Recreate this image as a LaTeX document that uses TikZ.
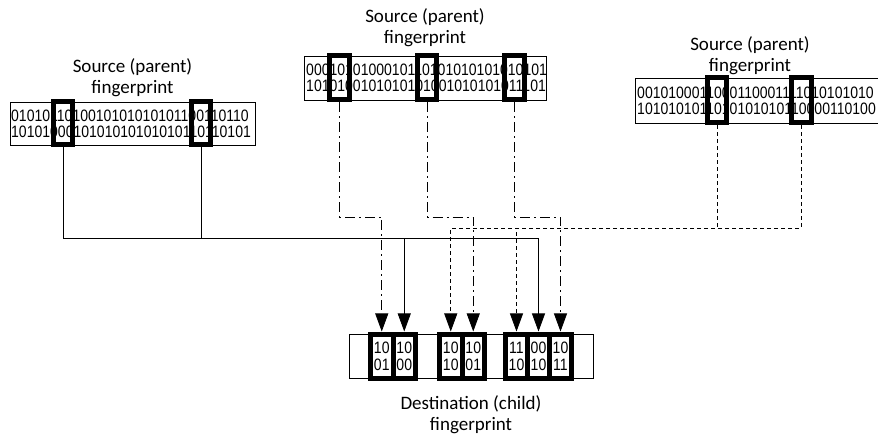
\documentclass[tikz,border=0pt]{standalone}
\usepackage{fontspec}
\setmainfont{Carlito}
\newfontfamily\digitfont[FakeStretch=0.85]{Liberation Sans}
\usetikzlibrary{arrows.meta}
\begin{document}
\begin{tikzpicture}[x=1pt,y=-1pt,
  lbl/.style={font=\fontsize{19}{21}\selectfont, align=center, inner sep=0pt},
  fpbox/.style={draw, line width=0.8pt, inner sep=0pt, minimum width=#1},
  hl/.style={draw, line width=5pt, inner sep=0pt, minimum width=19.5pt},
  bits/.style={font=\digitfont\fontsize{16.5}{16}\selectfont, inner sep=0pt, anchor=west},
  cbox/.style={draw, line width=5pt, inner sep=0pt, minimum width=22.5pt, minimum height=44pt,
               align=center, font=\digitfont\fontsize{16.5}{17}\selectfont},
  conn/.style={line width=0.8pt, -{Triangle[length=18pt,width=13pt]}},
  solidc/.style={conn},
  dashdotc/.style={conn, dash pattern=on 10pt off 4pt on 2pt off 4pt},
  dashc/.style={conn, dash pattern=on 4pt off 3pt},
]
\useasboundingbox (0,0) rectangle (878,438);
\clip (0,0) rectangle (878,438);

% labels
\node[lbl] (labL) at (132.5,77.5) {Source (parent)\\fingerprint};
\node[lbl] (labM) at (425,28) {Source (parent)\\fingerprint};
\node[lbl] (labR) at (750,55.5) {Source (parent)\\fingerprint};
\node[lbl] (labD) at (471,415) {Destination (child)\\fingerprint};

% source boxes
\node[fpbox=245pt, minimum height=43pt] (L) at (132.5,123.5) {};
\node[bits] (L1) at (11,115.5) {0101011010010101010101100110110};
\node[bits] (L2) at (11,131.5) {1010100010101010101010110110101};

\node[fpbox=242pt, minimum height=44pt] (M) at (425,78) {};
\node[bits] (M1) at (306,70) {0001010100010110101010101010101};
\node[bits] (M2) at (306,86) {1010100101010101001010101011101};

\node[fpbox=260pt, minimum height=45pt] (R) at (765,100.5) {};
\node[bits] (R1) at (637,92.5) {0010100011000110001111010101010};
\node[bits] (R2) at (637,108.5) {1010101011010101010110000110100};

% highlight boxes
\node[hl, minimum height=43pt] (hL1) at (63,123.5) {};
\node[hl, minimum height=43pt] (hL2) at (201,123.5) {};
\node[hl, minimum height=44pt] (hM1) at (339.5,78) {};
\node[hl, minimum height=44pt] (hM2) at (427,78) {};
\node[hl, minimum height=44pt] (hM3) at (514.5,78) {};
\node[hl, minimum height=45pt] (hR1) at (717,100.5) {};
\node[hl, minimum height=45pt] (hR2) at (801.5,100.5) {};

% destination
\node[fpbox=244pt, minimum height=44pt] (D) at (471,356) {};
\node[cbox] (d1) at (381.75,356) {10\\01};
\node[cbox] (d2) at (404.25,356) {10\\00};
\node[cbox] (d3) at (450.75,356) {10\\10};
\node[cbox] (d4) at (473.25,356) {10\\01};
\node[cbox] (d5) at (516.5,356) {11\\10};
\node[cbox] (d6) at (538.5,356) {00\\10};
\node[cbox] (d7) at (560.5,356) {10\\11};

% routing levels
\coordinate (ySolid) at (0,238);
\coordinate (yDD) at (0,217);
\coordinate (yDash) at (0,228);

% connectors
\draw[solidc] (hL1.south) -- (hL1.south |- ySolid) -| (d2.north);
\draw[solidc] (hL2.south) -- (hL2.south |- ySolid) -| (d6.north);
\draw[dashdotc] (hM1.south) -- (hM1.south |- yDD) -| (d1.north);
\draw[dashdotc] (hM2.south) -- (hM2.south |- yDD) -| (d4.north);
\draw[dashdotc] (hM3.south) -- (hM3.south |- yDD) -| (d7.north);
\draw[dashc] (hR1.south) -- (hR1.south |- yDash) -| (d3.north);
\draw[dashc] (hR2.south) -- (hR2.south |- yDash) -| (d5.north);
\end{tikzpicture}
\end{document}
